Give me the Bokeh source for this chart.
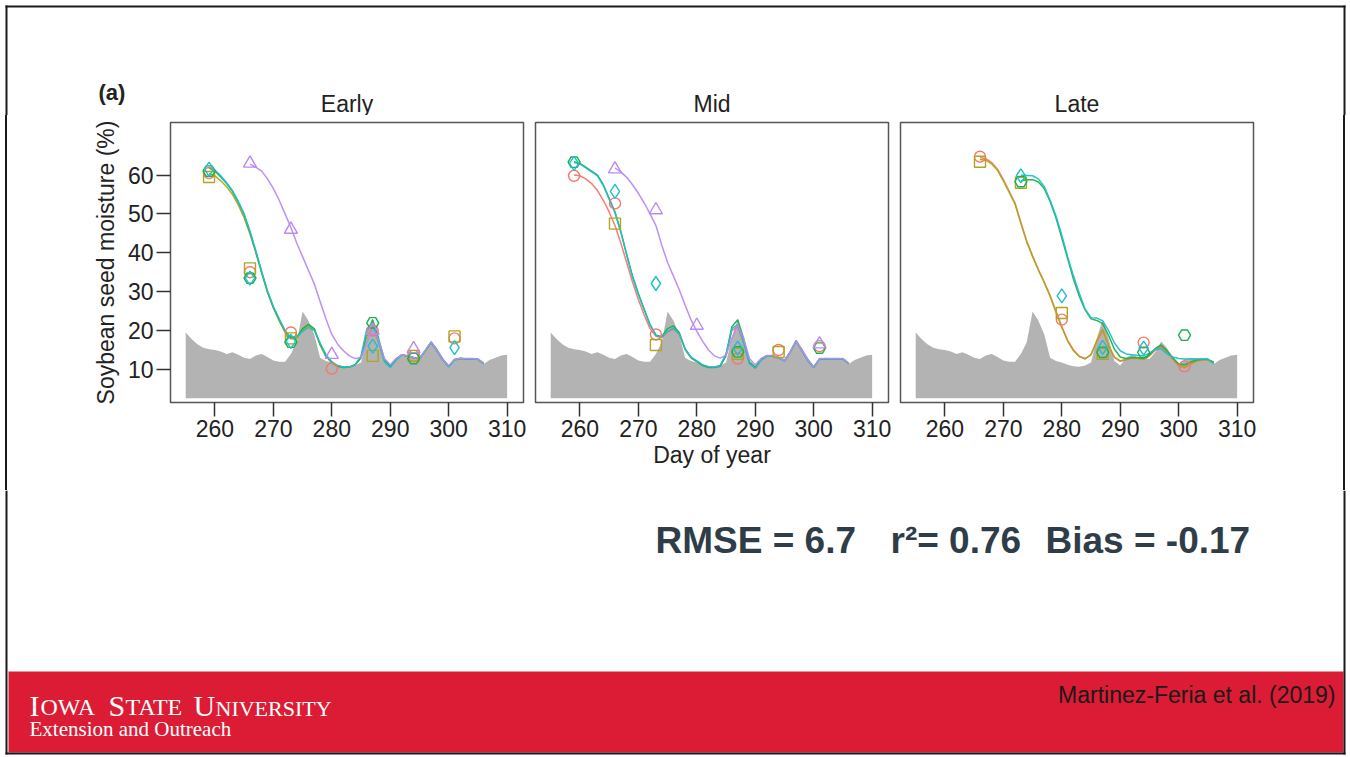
from bokeh.plotting import figure
from bokeh.models import Range1d, FixedTicker, Div
from bokeh.layouts import row, column
from bokeh.embed import file_html
from bokeh.resources import INLINE
from bokeh.core.properties import value

# ---------------- data ----------------
OBS_DAYS = [259, 266, 273, 280, 287, 294, 301]
X_TICKS = [260, 270, 280, 290, 300, 310]
Y_TICKS = [10, 20, 30, 40, 50, 60]
PANEL_TITLES = ["Early", "Mid", "Late"]

GRAY_DAY0 = 255
GRAY_MOISTURE = [19.5, 17.8, 16.5, 15.6, 15.2, 15.0, 14.6, 14.0, 14.4, 13.8,
                 13.0, 12.7, 13.6, 14.0, 13.2, 12.3, 12.0, 12.0, 14.0, 17.0,
                 24.9, 22.5, 19.0, 13.0, 12.2, 11.8, 11.2, 10.8, 10.7, 11.0,
                 11.8, 18.0, 23.0, 18.0, 12.2, 11.0, 13.0, 13.8, 13.2, 13.0,
                 12.7, 14.5, 17.2, 15.5, 13.0, 11.0, 12.7, 13.0, 12.9, 12.8,
                 12.7, 11.4, 12.4, 13.0, 13.6, 13.8]

# observations (None = not observed)
EARLY_RED_OBS = [60.5, 35.0, 19.5, 10.2, 20.0, 13.5, 18.0]
EARLY_OLIVE_OBS = [59.5, 36.0, 18.0, None, 13.5, 13.5, 18.5]
EARLY_GREEN_OBS = [61.0, 33.5, 17.0, None, 22.0, 12.8, None]
EARLY_CYAN_OBS = [61.5, 33.5, 17.2, None, 16.0, None, 15.6]
EARLY_PURPLE_OBS = [None, 63.0, 46.0, 13.8, 20.0, 15.3, None]

MID_RED_OBS = [59.8, 52.7, 19.0, None, 12.8, 15.0, 16.0]
MID_OLIVE_OBS = [None, 47.5, 16.3, None, 14.0, 14.5, None]
MID_GREEN_OBS = [63.3, None, None, None, 14.5, None, 15.5]
MID_CYAN_OBS = [63.0, 55.8, 32.1, None, 15.5, None, None]
MID_PURPLE_OBS = [None, 61.5, 51.0, 21.3, None, None, 16.5]

LATE_RED_OBS = [None, 64.7, None, 22.8, None, 16.9, 10.8]
LATE_OLIVE_OBS = [None, 63.4, 58.0, 24.5, 14.0, None, None]
LATE_GREEN_OBS = [None, None, 58.3, None, 14.4, 14.4, 18.8]
LATE_CYAN_OBS = [None, None, 59.8, 28.9, 15.7, 15.5, None]
LATE_PURPLE_OBS = [None, None, None, None, None, None, None]

# simulated daily curves (first day, daily values)
EARLY_OLIVE_DAY0 = 259
EARLY_OLIVE_LINE = [60.3, 59.8, 58.5, 57.0, 55.0, 52.3, 49.0, 44.8, 40.0, 34.8,
                    29.8, 25.8, 22.5, 19.6, 17.8, 18.0, 20.2, 21.3, 20.2, 16.3,
                    13.3, 11.7, 10.8, 10.5, 10.6, 11.2, 13.0, 18.5, 21.0, 17.0,
                    12.3, 10.9, 12.6, 13.8, 13.4, 13.0, 12.8, 14.8, 17.0, 14.8,
                    12.5, 10.8, 12.5, 12.8, 12.7, 12.7, 12.6, 11.5]
EARLY_GREEN_DAY0 = 259
EARLY_GREEN_LINE = [61.8, 61.0, 59.5, 57.8, 55.8, 53.0, 49.8, 45.3, 40.3, 35.0,
                    30.0, 26.0, 22.8, 19.8, 18.0, 18.3, 20.5, 21.6, 20.5, 16.5,
                    13.5, 11.8, 10.8, 10.5, 10.6, 11.2, 13.0, 19.5, 22.8, 18.0,
                    12.5, 10.8, 12.5, 13.8, 13.4, 13.0, 12.8, 14.8, 17.0, 14.8,
                    12.5, 10.8, 12.5, 12.8, 12.7, 12.7, 12.6, 11.5]
EARLY_CYAN_DAY0 = 259
EARLY_CYAN_LINE = [62.0, 61.3, 59.8, 58.0, 56.0, 53.2, 50.0, 45.6, 40.5, 35.2,
                   30.2, 26.2, 23.0, 20.0, 18.2, 18.2, 19.8, 20.8, 20.0, 16.8,
                   13.8, 12.0, 11.0, 10.6, 10.6, 11.3, 13.5, 20.5, 22.0, 17.0,
                   12.0, 10.5, 12.4, 13.7, 13.4, 13.0, 12.8, 14.8, 17.0, 14.8,
                   12.5, 10.6, 12.4, 12.8, 12.7, 12.7, 12.6, 11.5]
EARLY_PURPLE_DAY0 = 266
EARLY_PURPLE_LINE = [62.8, 62.0, 61.0, 59.0, 56.5, 53.5, 50.0, 46.5, 42.5, 39.0,
                     35.5, 32.0, 27.5, 23.0, 19.0, 16.5, 14.8, 13.5, 12.8, 13.0,
                     17.0, 20.5, 17.5, 12.8, 11.2, 12.8, 13.8, 13.5, 13.1, 12.9,
                     14.9, 17.1, 14.9, 12.6, 10.9, 12.6, 12.9, 12.8, 12.8, 12.7,
                     11.6]

MID_RED_DAY0 = 259
MID_RED_LINE = [60.0, 59.8, 59.0, 57.8, 56.0, 53.5, 50.5, 47.0, 42.5, 37.5,
                32.5, 28.0, 24.0, 20.5, 18.5, 18.2, 19.6, 20.4, 19.0, 15.2,
                13.1, 12.1, 11.1, 10.6, 10.6, 11.0, 13.8, 20.0, 21.0, 16.8,
                11.5, 10.3, 12.4, 13.4, 13.4, 13.0, 12.2, 14.5, 17.3, 14.8,
                12.3, 10.5, 12.7, 12.7, 12.7, 12.7, 12.7, 11.5]
MID_GREEN_DAY0 = 259
MID_GREEN_LINE = [63.4, 63.0, 62.0, 61.0, 60.0, 57.5, 54.0, 50.5, 45.5, 39.6,
                  34.0, 29.5, 25.5, 21.5, 18.8, 18.5, 20.5, 21.2, 19.5, 15.2,
                  13.0, 12.0, 11.0, 10.5, 10.5, 10.8, 13.5, 21.0, 22.8, 18.0,
                  12.0, 10.5, 12.5, 13.5, 13.5, 13.0, 12.2, 14.5, 17.4, 14.8,
                  12.3, 10.5, 12.7, 12.7, 12.7, 12.7, 12.7, 11.5]
MID_CYAN_DAY0 = 259
MID_CYAN_LINE = [63.2, 62.8, 61.8, 60.8, 59.8, 57.3, 53.8, 50.3, 45.3, 39.4,
                 33.8, 29.3, 25.3, 21.5, 18.8, 18.3, 19.8, 20.6, 19.2, 15.3,
                 13.2, 12.2, 11.2, 10.7, 10.6, 11.0, 14.0, 20.5, 21.5, 17.0,
                 11.5, 10.3, 12.4, 13.4, 13.4, 13.0, 12.2, 14.5, 17.3, 14.8,
                 12.3, 10.5, 12.7, 12.7, 12.7, 12.7, 12.7, 11.5]
MID_PURPLE_DAY0 = 266
MID_PURPLE_LINE = [61.8, 60.8, 59.4, 57.5, 55.3, 52.8, 50.0, 47.0, 42.0, 37.5,
                   34.0, 30.5, 26.5, 22.8, 19.8, 17.2, 15.0, 13.5, 12.9, 13.6,
                   18.0, 21.5, 18.0, 12.8, 11.2, 12.8, 13.6, 13.6, 13.1, 12.3,
                   14.6, 17.4, 14.9, 12.4, 10.6, 12.8, 12.8, 12.8, 12.8, 12.8,
                   11.6]

LATE_RED_DAY0 = 266
LATE_RED_LINE = [64.5, 64.2, 63.2, 61.5, 58.8, 55.8, 52.8, 47.8, 43.0, 39.2,
                 35.7, 32.5, 29.0, 25.0, 21.0, 17.5, 15.0, 13.4, 12.8, 13.8,
                 17.2, 20.0, 16.0, 13.1, 12.1, 12.5, 12.9, 12.8, 12.6, 13.5,
                 15.0, 15.9, 14.4, 12.6, 10.9, 10.4, 11.3, 12.1, 12.4, 12.4,
                 11.7]
LATE_OLIVE_DAY0 = 266
LATE_OLIVE_LINE = [64.0, 63.8, 62.8, 61.2, 58.5, 55.5, 52.5, 47.5, 42.8, 39.0,
                   35.5, 32.3, 28.8, 24.7, 20.8, 17.3, 14.8, 13.3, 12.7, 13.8,
                   17.5, 20.3, 16.2, 13.2, 12.2, 12.6, 13.0, 12.9, 12.7, 13.6,
                   15.2, 16.1, 14.6, 12.8, 11.1, 10.6, 11.5, 12.2, 12.5, 12.5,
                   11.8]
LATE_GREEN_DAY0 = 273
LATE_GREEN_LINE = [58.5, 58.8, 58.8, 58.2, 56.5, 53.2, 49.0, 43.8, 38.5, 33.2,
                   28.8, 25.3, 23.0, 22.6, 21.8, 18.8, 15.2, 13.2, 12.8, 13.1,
                   13.0, 12.9, 13.8, 15.4, 16.3, 14.8, 13.0, 11.4, 11.2, 11.9,
                   12.4, 12.6, 12.6, 11.9]
LATE_CYAN_DAY0 = 273
LATE_CYAN_LINE = [60.0, 59.9, 59.8, 59.0, 57.0, 53.5, 49.5, 44.5, 39.0, 34.0,
                  29.5, 25.5, 23.3, 23.2, 22.5, 20.0, 16.8, 14.8, 14.0, 13.8,
                  13.6, 13.5, 14.2, 15.2, 15.3, 14.0, 13.2, 12.8, 12.7, 12.7,
                  12.7, 12.7, 12.7, 11.4]

# ---------------- styles ----------------
SERIES_ORDER = ["red", "olive", "green", "cyan", "purple"]
COLORS = {"red": "#F8766D", "olive": "#AFA520", "green": "#1DB04A",
          "cyan": "#1FBFCB", "purple": "#B98AF0"}
MARKERS = {"red": "circle", "olive": "square", "green": "hex",
           "cyan": "diamond", "purple": "triangle"}
MARKER_SIZE = {"red": 11, "olive": 11, "green": 12, "cyan": 14, "purple": 13}
FONT = "Liberation Sans"
BORDER = "#1a1a1a"

panels = [
    {"obs": {"red": EARLY_RED_OBS, "olive": EARLY_OLIVE_OBS, "green": EARLY_GREEN_OBS,
             "cyan": EARLY_CYAN_OBS, "purple": EARLY_PURPLE_OBS},
     "lines": {"olive": (EARLY_OLIVE_DAY0, EARLY_OLIVE_LINE),
               "green": (EARLY_GREEN_DAY0, EARLY_GREEN_LINE),
               "cyan": (EARLY_CYAN_DAY0, EARLY_CYAN_LINE),
               "purple": (EARLY_PURPLE_DAY0, EARLY_PURPLE_LINE)}},
    {"obs": {"red": MID_RED_OBS, "olive": MID_OLIVE_OBS, "green": MID_GREEN_OBS,
             "cyan": MID_CYAN_OBS, "purple": MID_PURPLE_OBS},
     "lines": {"red": (MID_RED_DAY0, MID_RED_LINE),
               "green": (MID_GREEN_DAY0, MID_GREEN_LINE),
               "cyan": (MID_CYAN_DAY0, MID_CYAN_LINE),
               "purple": (MID_PURPLE_DAY0, MID_PURPLE_LINE)}},
    {"obs": {"red": LATE_RED_OBS, "olive": LATE_OLIVE_OBS, "green": LATE_GREEN_OBS,
             "cyan": LATE_CYAN_OBS, "purple": LATE_PURPLE_OBS},
     "lines": {"red": (LATE_RED_DAY0, LATE_RED_LINE),
               "olive": (LATE_OLIVE_DAY0, LATE_OLIVE_LINE),
               "green": (LATE_GREEN_DAY0, LATE_GREEN_LINE),
               "cyan": (LATE_CYAN_DAY0, LATE_CYAN_LINE)}},
]

gray_days = list(range(GRAY_DAY0, GRAY_DAY0 + len(GRAY_MOISTURE)))

PAGE_W = 1350
TOP_H = 115
ROW_H = 375
BOTTOM_H = 266
FRAME_TOP_BORDER = 7
FRAME_H = 280
FRAME_BOTTOM_BORDER = ROW_H - FRAME_TOP_BORDER - FRAME_H
FRAME_W = 353
FRAME_LEFTS = [170, 535, 900]
STRIP_W = 12  # 2px line plus the Div's default 5px margins


def blank(width, height, x0, x1, y_top, y_bottom):
    """A plain drawing area whose data units are page pixels."""
    f = figure(width=width, height=height, x_range=Range1d(x0, x1),
               y_range=Range1d(y_bottom, y_top), output_backend="svg",
               toolbar_location=None, min_border=0,
               x_axis_location=None, y_axis_location=None)
    f.grid.visible = False
    f.outline_line_color = None
    return f


def border_strip():
    """A 2px dark vertical line (slide border) beside the panel row.
    The inner line is shifted up by the Div's 5px margin and made as tall as the row,
    so it also covers the margins above and below."""
    h = ROW_H - 10
    inner = (f'<div style="position:relative;top:-5px;width:2px;height:{ROW_H}px;'
             f'background-color:{BORDER};"></div>')
    return Div(text=inner, width=2, height=h, styles={"overflow": "visible"})


# ---- top strip: slide border, panel label and panel titles ----
ftop = blank(PAGE_W, TOP_H, 0, PAGE_W, 0, TOP_H)
ftop.quad(left=[5, 5, 1343], right=[1345, 7, 1345], top=[5, 5, 5],
          bottom=[7, TOP_H, TOP_H], fill_color=BORDER, line_color=None)
ftop.text(x=[98], y=[92], text=["(a)"], text_font=value(FONT), text_font_size="22px",
          text_font_style="bold", text_color="#222222", text_baseline="middle",
          text_align="left")
ftop.text(x=[fl + FRAME_W / 2 for fl in FRAME_LEFTS], y=[103] * 3, text=PANEL_TITLES,
          text_font=value(FONT), text_font_size="23px", text_color="#222222",
          text_baseline="middle", text_align="center")

figs = []
for i, spec in enumerate(panels):
    p = figure(frame_width=FRAME_W, frame_height=FRAME_H,
               x_range=Range1d(252.4, 312.8), y_range=Range1d(1.5, 73.5),
               min_border_left=(170 - STRIP_W) if i == 0 else 6,
               min_border_right=(PAGE_W - STRIP_W - 1253) if i == 2 else 6,
               min_border_top=FRAME_TOP_BORDER, min_border_bottom=FRAME_BOTTOM_BORDER,
               output_backend="svg", toolbar_location=None,
               y_axis_location="left" if i == 0 else None)
    p.title.visible = False
    p.grid.visible = False
    p.outline_line_color = "#555555"
    p.outline_line_width = 1.5
    p.background_fill_color = "white"
    p.border_fill_color = "white"

    axes = [p.xaxis[0]] + ([p.yaxis[0]] if i == 0 else [])
    for ax in axes:
        ax.axis_line_color = None
        ax.major_tick_out = 14
        ax.major_tick_in = 0
        ax.minor_tick_out = 0
        ax.minor_tick_in = 0
        ax.major_tick_line_color = "#333333"
        ax.major_tick_line_width = 1.5
        ax.major_label_text_font = FONT
        ax.major_label_text_font_size = "23px"
        ax.major_label_text_color = "#222222"
        ax.axis_label_text_font = FONT
        ax.axis_label_text_font_size = "23px"
        ax.axis_label_text_font_style = "normal"
        ax.axis_label_text_color = "#222222"
    p.xaxis.ticker = FixedTicker(ticks=X_TICKS)
    p.xaxis.major_label_standoff = 3
    if i == 1:
        p.xaxis.axis_label = "Day of year"
        p.xaxis.axis_label_standoff = 2
    if i == 0:
        p.yaxis.ticker = FixedTicker(ticks=Y_TICKS)
        p.yaxis.major_label_standoff = 3
        p.yaxis.axis_label = "Soybean seed moisture (%)"
        p.yaxis.axis_label_standoff = 6

    p.varea(x=gray_days, y1=2.6, y2=GRAY_MOISTURE, fill_color="#B3B3B3")

    for s in SERIES_ORDER:
        if s in spec["lines"]:
            d0, vals = spec["lines"][s]
            p.line(list(range(d0, d0 + len(vals))), vals,
                   line_color=COLORS[s], line_width=1.5, line_alpha=0.95)
    for s in SERIES_ORDER:
        obs = spec["obs"][s]
        xs = [d for d, v in zip(OBS_DAYS, obs) if v is not None]
        ys = [v for v in obs if v is not None]
        if xs:
            p.scatter(xs, ys, marker=MARKERS[s], size=MARKER_SIZE[s],
                      fill_color=None, line_color=COLORS[s], line_width=1.4)
    figs.append(p)

# ---------------- bottom part of the slide ----------------
Y0 = TOP_H + ROW_H
fb = blank(PAGE_W, BOTTOM_H, 0, PAGE_W, Y0, Y0 + BOTTOM_H)
fb.quad(left=8, right=1343, top=671, bottom=752, fill_color="#DC1C35", line_color=None)
fb.quad(left=[5, 1343, 5], right=[7, 1345, 1345], top=[Y0, Y0, 752],
        bottom=[754, 754, 754], fill_color=BORDER, line_color=None)

STAT_TEXTS = ["RMSE = 6.7", "r\u00b2= 0.76", "Bias = -0.17"]
STAT_X = [655, 890, 1045]
fb.text(x=STAT_X, y=[540] * 3, text=STAT_TEXTS, text_font=value(FONT),
        text_font_size="37px", text_font_style="bold", text_color="#2f3d48",
        text_baseline="middle", text_align="left")

LOGO_PIECES = ["I", "OWA", "S", "TATE", "U", "NIVERSITY"]
LOGO_X = [29, 40, 108, 125, 193, 215]
LOGO_SIZE = [30, 24, 30, 24, 30, 22]
for t, x, sz in zip(LOGO_PIECES, LOGO_X, LOGO_SIZE):
    fb.text(x=[x], y=[715 - 0.34 * sz], text=[t], text_font=value("Liberation Serif"),
            text_font_size=f"{sz}px", text_color="white", text_baseline="middle",
            text_align="left")
fb.text(x=[29], y=[728], text=["Extension and Outreach"], text_font=value("Liberation Serif"),
        text_font_size="21px", text_color="white", text_baseline="middle", text_align="left")
fb.text(x=[1335], y=[694], text=["Martinez-Feria et al. (2019)"], text_font=value(FONT),
        text_font_size="23px", text_color="#1a1a1a", text_baseline="middle",
        text_align="right")

layout = column(ftop, row(border_strip(), *figs, border_strip()), fb)

open("out.html", "w").write(file_html(layout, INLINE, title="Soybean seed moisture"))
